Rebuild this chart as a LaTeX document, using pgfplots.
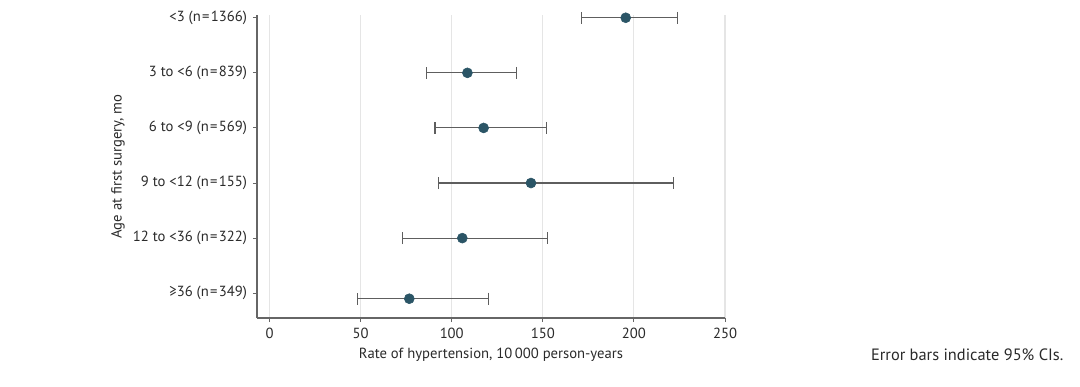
\documentclass[border=0pt]{standalone}
\usepackage{pgfplots}
\pgfplotsset{compat=1.18}
\usepackage{fontspec}
\setmainfont{PT Sans}
\definecolor{dotc}{HTML}{2B5566}
\definecolor{barc}{HTML}{5E5E5E}
\definecolor{axc}{HTML}{666666}
\definecolor{txt}{HTML}{2A2A2A}
\begin{document}
\begin{tikzpicture}
\useasboundingbox (-192.75pt,-51pt) rectangle (617.25pt,238.5pt);
\begin{axis}[
  at={(0,0)}, anchor=south west,
  scale only axis, width=351pt, height=227.25pt,
  xmin=-6.9, xmax=250, ymin=-0.45, ymax=5.05,
  axis lines=left,
  axis line style={draw=axc, line width=0.9pt, -},
  xtick={0,50,100,150,200,250},
  ytick={0,1,2,3,4,5},
  yticklabels={{≥36 (n\kern1pt=\kern1pt349)},{12 to <36 (n\kern1pt=\kern1pt322)},{9 to <12 (n\kern1pt=\kern1pt155)},{6 to <9 (n\kern1pt=\kern1pt569)},{3 to <6 (n\kern1pt=\kern1pt839)},{<3 (n\kern1pt=\kern1pt1366)}},
  tick align=outside,
  major tick length=3pt,
  tick style={draw=axc, line width=0.7pt},
  xmajorgrids,
  grid style={draw=black!10, line width=0.8pt},
  /pgf/number format/assume math mode=true,
  ticklabel style={font=\fontsize{11}{13}\selectfont, text=txt},
  yticklabel style={xshift=-1pt},
  xticklabel style={yshift=-1pt},
  xlabel={Rate of hypertension, 10\,000 person-years},
  ylabel={Age at first surgery, mo},
  label style={font=\fontsize{11}{13}\selectfont, text=txt},
  xlabel style={at={(axis description cs:0.5,0)}, anchor=center, yshift=-27.75pt},
  ylabel style={at={(axis description cs:0,0.5)}, anchor=center, yshift=104.25pt},
  clip=false,
]
\addplot[only marks, mark=*, mark size=3.75pt, mark options={fill=dotc, draw=dotc},
  error bars/.cd, x dir=both, x explicit,
  error bar style={draw=barc, line width=0.8pt},
  error mark options={rotate=90, mark size=4.5pt, draw=barc, line width=0.8pt}]
  table[x=x, y=y, x error plus=ep, x error minus=em] {
x     y      ep    em
76.7  -0.1   43.4  28.3
105.8 1      46.9  32.7
143.5 2      78.1  50.8
117.5 3      34.6  26.7
108.6 4      26.7  22.5
195.5 5      28.2  24.5
};
\end{axis}
\node[anchor=east, font=\fontsize{12.3}{14}\selectfont, text=txt] at (608.25pt,-27.75pt) {Error bars indicate 95\% CIs.};
\end{tikzpicture}
\end{document}
